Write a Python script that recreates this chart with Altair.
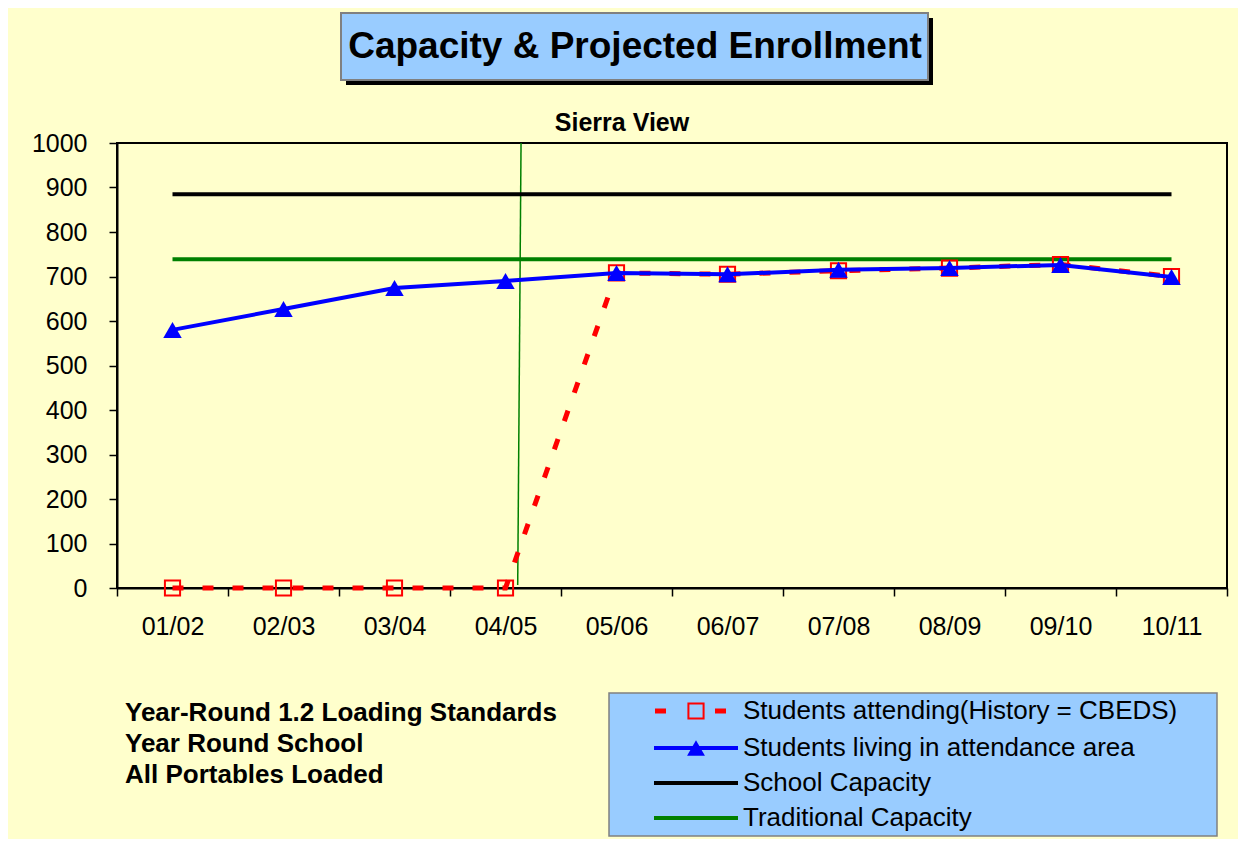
import json
import altair as alt
import pandas as pd

# ---------------- data ----------------
years = ["01/02", "02/03", "03/04", "04/05", "05/06",
         "06/07", "07/08", "08/09", "09/10", "10/11"]
students_attending = [0, 0, 0, 0, 708, 705, 713, 719, 727, 700]
students_living = [580, 627, 674, 690, 708, 705, 715, 719, 726, 699]
school_capacity = [885, 885, 885, 885, 885, 885, 885, 885, 885, 885]
traditional_capacity = [739, 739, 739, 739, 739, 739, 739, 739, 739, 739]
y_ticks = [0, 100, 200, 300, 400, 500, 600, 700, 800, 900, 1000]
# the thin green divider (category position / value at top and bottom)
divider_index = [3.14, 3.11]
divider_value = [1000, 7]

title_text = "Capacity & Projected Enrollment"
subtitle_text = "Sierra View"
notes = ["Year-Round 1.2 Loading Standards", "Year Round School", "All Portables Loaded"]
legend_labels = ["Students attending(History = CBEDS)",
                 "Students living in attendance area",
                 "School Capacity",
                 "Traditional Capacity"]

# ---------------- styles ----------------
FONT = "Liberation Sans"
BG = "#FFFFCC"
BOX = "#99CCFF"
RED = "#FF0000"
BLUE = "#0000FF"
GREEN = "#008000"
BLACK = "#000000"
W, H = 1110, 445

df = pd.DataFrame({
    "idx": list(range(len(years))),
    "year": years,
    "attending": students_attending,
    "living": students_living,
    "school": school_capacity,
    "traditional": traditional_capacity,
})
df_div = pd.DataFrame({"x": [divider_index[0]], "x2": [divider_index[1]],
                       "y": [divider_value[0]], "y2": [divider_value[1]]})
one = pd.DataFrame({"k": [0]})

x_ticks = [i * 0.5 - 0.5 for i in range(2 * len(years) + 1)]
label_expr = "datum.value % 1 === 0 ? " + json.dumps(years) + "[datum.value] : ''"

x_scale = alt.Scale(domain=[-0.5, len(years) - 0.5], nice=False, zero=False)
y_scale = alt.Scale(domain=[0, 1000], nice=False, zero=True)
x_axis = alt.Axis(values=x_ticks, labelExpr=label_expr, title=None, grid=False,
                  tickSize=8, labelPadding=18, labelOverlap=False, labelFlush=False,
                  tickOpacity={"condition": {"test": "datum.value % 1 === 0", "value": 0}, "value": 1})
y_axis = alt.Axis(values=y_ticks, format="d", title=None, grid=False, tickSize=8, labelPadding=22,
                  labelFlush=False, labelOverlap=False)


def X(field):
    return alt.X(field, scale=x_scale, axis=x_axis)


def Y(field):
    return alt.Y(field, scale=y_scale, axis=y_axis)


divider = alt.Chart(df_div).mark_rule(color=GREEN, strokeWidth=1.5).encode(
    x=X("x:Q"), x2="x2:Q", y=Y("y:Q"), y2="y2:Q")

school = alt.Chart(df).mark_line(color=BLACK, strokeWidth=4).encode(x=X("idx:Q"), y=Y("school:Q"))
trad = alt.Chart(df).mark_line(color=GREEN, strokeWidth=4).encode(x=X("idx:Q"), y=Y("traditional:Q"))
att_line = alt.Chart(df).mark_line(color=RED, strokeWidth=5, strokeDash=[11, 19]).encode(
    x=X("idx:Q"), y=Y("attending:Q"))
att_pts = alt.Chart(df).mark_point(shape="square", filled=False, stroke=RED, strokeWidth=2,
                                   size=230, opacity=1).encode(x=X("idx:Q"), y=Y("attending:Q"))
liv_line = alt.Chart(df).mark_line(color=BLUE, strokeWidth=4).encode(x=X("idx:Q"), y=Y("living:Q"))
liv_pts = alt.Chart(df).mark_point(shape="triangle-up", filled=True, color=BLUE, size=340,
                                   opacity=1).encode(x=X("idx:Q"), y=Y("living:Q"))

layers = [divider, school, trad, att_line, att_pts, liv_line, liv_pts]

# ---------------- title box ----------------
layers.append(alt.Chart(one).mark_rect(fill=BLACK).encode(
    x=alt.value(229), x2=alt.value(816), y=alt.value(-125), y2=alt.value(-58)))
layers.append(alt.Chart(one).mark_rect(fill=BOX, stroke="#808080", strokeWidth=2).encode(
    x=alt.value(224), x2=alt.value(811), y=alt.value(-130), y2=alt.value(-63)))
layers.append(alt.Chart(one).mark_text(text=title_text, font=FONT, fontSize=37, fontWeight="bold",
                                       align="center", baseline="middle", color=BLACK).encode(
    x=alt.value(518), y=alt.value(-96)))
layers.append(alt.Chart(one).mark_text(text=subtitle_text, font=FONT, fontSize=25, fontWeight="bold",
                                       align="center", baseline="middle", color=BLACK).encode(
    x=alt.value(505), y=alt.value(-20)))

# ---------------- notes ----------------
for i, t in enumerate(notes):
    layers.append(alt.Chart(one).mark_text(text=t, font=FONT, fontSize=26, fontWeight="bold",
                                           align="left", baseline="middle", color=BLACK).encode(
        x=alt.value(8), y=alt.value(570 + 31 * i)))

# ---------------- legend box ----------------
layers.append(alt.Chart(one).mark_rect(fill=BOX, stroke="#808080", strokeWidth=1.5).encode(
    x=alt.value(492), x2=alt.value(1100), y=alt.value(550), y2=alt.value(693)))
rows = [568, 605, 640, 675]
sx0, sx1 = 537, 621
# row 1: red dashed with square
for a, b in [(538, 549), (598, 609)]:
    layers.append(alt.Chart(one).mark_rule(color=RED, strokeWidth=5).encode(
        x=alt.value(a), x2=alt.value(b), y=alt.value(rows[0])))
layers.append(alt.Chart(one).mark_point(shape="square", filled=False, stroke=RED, strokeWidth=2,
                                        size=230, opacity=1).encode(
    x=alt.value(579), y=alt.value(rows[0])))
# row 2: blue with triangle
layers.append(alt.Chart(one).mark_rule(color=BLUE, strokeWidth=4).encode(
    x=alt.value(sx0), x2=alt.value(sx1), y=alt.value(rows[1])))
layers.append(alt.Chart(one).mark_point(shape="triangle-up", filled=True, color=BLUE, size=320,
                                        opacity=1).encode(x=alt.value(579), y=alt.value(rows[1])))
# rows 3, 4
layers.append(alt.Chart(one).mark_rule(color=BLACK, strokeWidth=4).encode(
    x=alt.value(sx0), x2=alt.value(sx1), y=alt.value(rows[2])))
layers.append(alt.Chart(one).mark_rule(color=GREEN, strokeWidth=4).encode(
    x=alt.value(sx0), x2=alt.value(sx1), y=alt.value(rows[3])))
for r, t in zip(rows, legend_labels):
    layers.append(alt.Chart(one).mark_text(text=t, font=FONT, fontSize=26, align="left",
                                           baseline="middle", color=BLACK).encode(
        x=alt.value(626), y=alt.value(r)))

chart = alt.layer(*layers).properties(
    width=W, height=H,
    autosize=alt.AutoSizeParams(type="none"),
    padding={"left": 109, "top": 135, "right": 11, "bottom": 251},
    background=BG,
).configure_view(
    stroke=BLACK, strokeWidth=2, fill=BG
).configure_axis(
    labelFont=FONT, labelFontSize=25, labelColor=BLACK,
    domainColor=BLACK, domainWidth=2, tickColor=BLACK, tickWidth=1.5,
)

chart.save("out.html", embed_options={"renderer": "svg", "actions": False})
